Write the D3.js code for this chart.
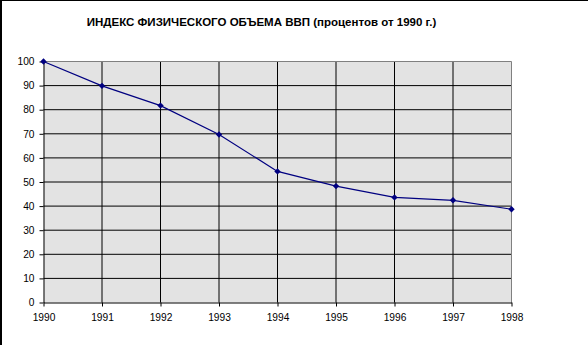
<!DOCTYPE html>
<html><head><meta charset="utf-8">
<script src="https://cdn.jsdelivr.net/npm/d3@7"></script>
<style>body{margin:0;background:#fff}svg{display:block}</style>
</head><body>
<script>
const years = [1990,1991,1992,1993,1994,1995,1996,1997,1998];
const values = [100,89.9,81.7,69.7,54.4,48.3,43.6,42.4,38.7];
const yTicks = [0,10,20,30,40,50,60,70,80,90,100];
const title = "ИНДЕКС ФИЗИЧЕСКОГО ОБЪЕМА ВВП (процентов от 1990 г.)";

const W=588,H=345;
const svg=d3.select("body").append("svg").attr("width",W).attr("height",H);
svg.append("rect").attr("width",W).attr("height",H).attr("fill","#fff");
// frame top/left
svg.append("line").attr("x1",0).attr("x2",W).attr("y1",0.5).attr("y2",0.5).attr("stroke","#000").attr("stroke-width",1);
svg.append("line").attr("x1",1).attr("x2",1).attr("y1",0).attr("y2",H).attr("stroke","#000").attr("stroke-width",2);

const x=d3.scalePoint().domain(years).range([43.5,511.5]);
const y=d3.scaleLinear().domain([0,100]).range([302.5,61.5]);

svg.append("rect").attr("x",43.5).attr("y",61.5).attr("width",468).attr("height",241).attr("fill","#e3e3e3");
const g=svg.append("g");
g.selectAll(".hg").data(yTicks.slice(1,-1)).join("line").attr("x1",43.5).attr("x2",511.5).attr("y1",d=>y(d)).attr("y2",d=>y(d)).attr("stroke","#000");
g.selectAll(".vg").data(years.slice(1,-1)).join("line").attr("y1",61.5).attr("y2",302.5).attr("x1",d=>x(d)).attr("x2",d=>x(d)).attr("stroke","#000");
// plot border top/right gray
svg.append("line").attr("x1",43.5).attr("x2",511.5).attr("y1",61.5).attr("y2",61.5).attr("stroke","#808080");
svg.append("line").attr("x1",511.5).attr("x2",511.5).attr("y1",61.5).attr("y2",302.5).attr("stroke","#808080");

const ya=svg.append("g").attr("transform","translate(43.5,0)").call(d3.axisLeft(y).tickValues(yTicks).tickSize(4).tickPadding(5).tickSizeOuter(0));
const xa=svg.append("g").attr("transform","translate(0,302.5)").call(d3.axisBottom(x).tickValues(years).tickSize(4).tickPadding(7).tickSizeOuter(0).tickFormat(d3.format("d")));
[ya,xa].forEach(a=>{a.select(".domain").attr("stroke","#000");a.selectAll(".tick line").attr("stroke","#000");
 a.selectAll("text").attr("font-family","Liberation Sans, Arial, sans-serif").attr("font-size","10.2px").attr("fill","#000");});

svg.append("path").datum(values).attr("fill","none").attr("stroke","#000080").attr("stroke-width",1.2)
 .attr("d",d3.line().x((d,i)=>x(years[i])).y(d=>y(d)));
svg.selectAll(".m").data(values).join("path").attr("fill","#000080")
 .attr("transform",(d,i)=>`translate(${x(years[i])},${y(d)})`)
 .attr("d",d3.symbol(d3.symbolDiamond2,26));

svg.append("text").attr("x",261.5).attr("y",26).attr("text-anchor","middle")
 .attr("font-family","Liberation Sans, Arial, sans-serif").attr("font-weight","bold").attr("font-size","11.5px").text(title);
</script>
</body></html>
